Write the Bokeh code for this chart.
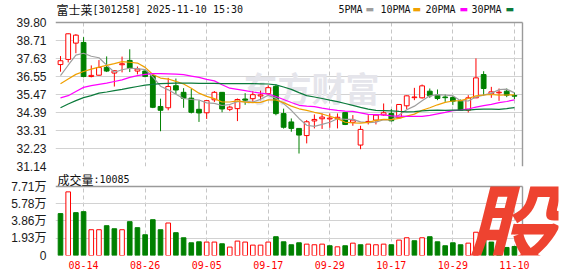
from bokeh.plotting import figure
from bokeh.models import Range1d, FixedTicker, CustomJSTickFormatter, Label, ColumnDataSource, Grid
from bokeh.layouts import column
from bokeh.embed import file_html
from bokeh.resources import INLINE

# ---------------- data ----------------
dates = ["08-11", "08-12", "08-13", "08-14", "08-15", "08-18", "08-19", "08-20", "08-21", "08-22",
         "08-25", "08-26", "08-27", "08-28", "08-29", "09-01", "09-02", "09-03", "09-04", "09-05",
         "09-08", "09-09", "09-10", "09-11", "09-12", "09-15", "09-16", "09-17", "09-18", "09-19",
         "09-22", "09-23", "09-24", "09-25", "09-26", "09-29", "09-30", "10-09", "10-10", "10-13",
         "10-14", "10-15", "10-16", "10-17", "10-20", "10-21", "10-22", "10-23", "10-24", "10-27",
         "10-28", "10-29", "10-30", "10-31", "11-03", "11-04", "11-05", "11-06", "11-07", "11-10"]

open_ = [37.27, 37.58, 38.56, 38.60, 36.55, 36.63, 37.10, 36.76, 37.26, 37.52,
         36.88, 36.88, 36.62, 34.75, 34.67, 36.00, 35.60, 35.25, 34.58, 34.37,
         35.15, 35.60, 34.58, 34.62, 35.20, 35.22, 35.38, 35.52, 35.96, 34.32,
         33.82, 33.43, 33.00, 33.88, 34.01, 34.00, 34.03, 34.38, 33.80, 32.43,
         33.80, 33.93, 34.24, 34.33, 34.07, 34.79, 35.28, 35.27, 35.67, 35.43,
         35.32, 35.29, 35.07, 34.53, 35.27, 36.67, 35.51, 35.57, 35.67, 35.41]
high = [37.78, 39.14, 39.10, 38.92, 37.22, 37.54, 37.76, 36.92, 37.75, 38.19,
        37.15, 36.95, 36.70, 35.22, 36.47, 36.43, 35.85, 35.80, 35.12, 35.12,
        35.68, 35.62, 34.80, 35.23, 35.55, 35.68, 35.70, 36.02, 36.07, 34.62,
        34.03, 33.45, 33.93, 34.27, 34.33, 34.33, 34.33, 34.40, 34.23, 33.59,
        34.23, 34.25, 34.93, 34.59, 34.89, 35.41, 35.87, 36.07, 35.83, 35.77,
        35.47, 35.39, 35.17, 35.43, 37.64, 36.87, 35.93, 35.83, 35.83, 35.59]
low = [36.84, 37.40, 37.95, 36.50, 36.50, 36.60, 36.82, 35.95, 36.80, 36.82,
       36.68, 36.50, 34.65, 33.26, 34.52, 35.50, 34.67, 34.33, 33.82, 34.00,
       35.02, 34.40, 34.47, 33.87, 34.85, 35.03, 35.12, 35.42, 34.22, 33.42,
       33.23, 31.92, 32.53, 33.43, 33.40, 33.47, 33.43, 33.63, 33.59, 32.18,
       33.67, 33.67, 34.19, 33.85, 34.03, 34.59, 35.13, 35.23, 35.27, 35.13,
       35.03, 34.83, 34.51, 34.39, 35.25, 35.39, 35.27, 35.09, 35.31, 35.19]
close = [37.50, 39.12, 39.04, 36.55, 36.62, 37.09, 36.88, 36.90, 37.32, 37.05,
         37.00, 36.56, 34.70, 34.52, 35.95, 35.74, 35.25, 34.40, 34.36, 35.10,
         35.60, 34.60, 34.71, 35.17, 35.13, 35.46, 35.45, 35.88, 34.32, 33.50,
         33.43, 33.03, 33.83, 33.97, 34.11, 34.05, 34.10, 33.67, 33.93, 33.37,
         33.85, 34.23, 34.37, 33.89, 34.87, 35.39, 35.32, 35.99, 35.39, 35.23,
         35.28, 35.07, 34.53, 35.27, 36.47, 35.83, 35.63, 35.61, 35.43, 35.37]

ma5 = [36.60, 37.23, 37.84, 37.95, 37.77, 37.68, 37.24, 36.81, 36.96, 37.05,
       37.03, 36.97, 36.53, 35.97, 35.75, 35.49, 35.23, 35.17, 35.14, 34.97,
       34.94, 34.81, 34.87, 35.04, 35.04, 35.01, 35.18, 35.42, 35.25, 34.92,
       34.52, 34.03, 33.62, 33.55, 33.67, 33.80, 34.01, 33.98, 33.97, 33.82,
       33.78, 33.81, 33.95, 33.94, 34.24, 34.55, 34.77, 35.09, 35.39, 35.46,
       35.44, 35.39, 35.10, 35.08, 35.32, 35.43, 35.55, 35.76, 35.79, 35.57]
ma10 = [36.12, 36.40, 36.68, 36.85, 37.00, 37.12, 37.22, 37.33, 37.45, 37.41,
        37.36, 37.10, 36.67, 36.46, 36.40, 36.26, 36.10, 35.85, 35.55, 35.36,
        35.22, 35.02, 35.02, 35.09, 35.01, 34.98, 35.00, 35.15, 35.14, 34.98,
        34.77, 34.61, 34.52, 34.40, 34.30, 34.16, 34.02, 33.80, 33.76, 33.75,
        33.79, 33.91, 33.97, 33.96, 34.03, 34.17, 34.29, 34.52, 34.67, 34.85,
        35.00, 35.08, 35.10, 35.23, 35.39, 35.44, 35.47, 35.43, 35.44, 35.45]
ma20 = [35.27, 35.40, 35.65, 35.90, 36.00, 36.08, 36.15, 36.25, 36.35, 36.50,
        36.60, 36.68, 36.72, 36.72, 36.71, 36.70, 36.66, 36.58, 36.50, 36.38,
        36.29, 36.06, 35.85, 35.78, 35.70, 35.62, 35.55, 35.50, 35.35, 35.17,
        34.99, 34.82, 34.77, 34.74, 34.65, 34.57, 34.51, 34.47, 34.45, 34.37,
        34.28, 34.26, 34.24, 34.18, 34.17, 34.16, 34.16, 34.16, 34.21, 34.30,
        34.39, 34.50, 34.53, 34.60, 34.71, 34.80, 34.88, 34.98, 35.05, 35.15]
ma30 = [34.67, 34.90, 35.10, 35.28, 35.40, 35.55, 35.62, 35.70, 35.78, 35.87,
        35.95, 36.03, 36.08, 36.12, 36.14, 36.15, 36.15, 36.15, 36.14, 36.14,
        36.14, 36.13, 36.12, 36.12, 36.12, 36.12, 36.11, 36.10, 36.05, 35.92,
        35.78, 35.58, 35.40, 35.32, 35.23, 35.13, 35.04, 34.93, 34.82, 34.70,
        34.59, 34.51, 34.50, 34.48, 34.45, 34.43, 34.44, 34.49, 34.52, 34.53,
        34.52, 34.53, 34.53, 34.53, 34.58, 34.59, 34.59, 34.58, 34.62, 34.68]

# volume in units of 万 (10,000)
volume = [4.68, 7.11, 4.79, 4.90, 2.88, 2.88, 3.33, 2.99, 2.88, 3.78,
          3.11, 2.32, 4.00, 2.88, 3.63, 2.55, 1.98, 1.42, 1.53, 1.50,
          1.50, 1.31, 0.94, 1.61, 1.50, 1.16, 1.16, 1.50, 2.10, 1.53,
          1.20, 1.42, 1.27, 1.20, 1.27, 1.09, 0.97, 1.09, 1.38, 1.20,
          1.27, 1.20, 1.27, 1.20, 1.72, 1.98, 1.65, 1.98, 2.10, 1.53,
          1.09, 1.42, 1.20, 1.38, 2.60, 2.32, 1.50, 1.20, 0.90, 1.01]
# 1 = red (up) volume bar, 0 = green
volume_up = [0, 1, 0, 0, 1, 1, 0, 0, 1, 0,
             0, 0, 0, 0, 1, 0, 0, 0, 0, 1,
             1, 0, 1, 1, 1, 1, 1, 1, 0, 0,
             0, 0, 1, 1, 1, 0, 1, 0, 1, 0,
             1, 1, 1, 0, 1, 1, 0, 1, 0, 0,
             0, 0, 0, 1, 1, 0, 0, 0, 0, 0]

price_ticks = [31.14, 32.23, 33.31, 34.39, 35.47, 36.55, 37.63, 38.71, 39.80]
volume_ticks = [0, 1.93, 3.86, 5.78, 7.71]
x_tick_labels = ["08-14", "08-26", "09-05", "09-17", "09-29", "10-17", "10-29", "11-10"]

title_name = "富士莱"
title_rest = "[301258] 2025-11-10 15:30"
volume_title = "成交量"
volume_last = ":10085"
ma_names = ["5PMA", "10PMA", "20PMA", "30PMA"]

# ---------------- styling / layout (canvas pixels) ----------------
RED = "#FF0000"
GREEN = "#008000"
MA_COLORS = ["#9E9E9E", "#F0A000", "#FF00FF", "#0B7A3B"]
GRID = "#D2D2D2"
VGRID = "#C6C6C6"
BORDER = "#9A9A9A"
LABEL_FONT = "Liberation Sans, Noto Sans CJK SC"
MONO = "DejaVu Sans Mono"
CJK = "Noto Sans CJK SC"
W, H = 578, 276
PANEL_L, PANEL_R = 55, 522          # chart panels
FRAME_R = 558                       # every figure's frame reaches here (room for the logo)
P_TOP, P_BOT = 22, 166              # price panel
P_FIG_BOT = 173                     # price figure ends / volume figure starts
V_TOP, V_BOT = 186, 255             # volume panel

n = len(close)
xs = list(range(n))
x_ticks = [dates.index(d) for d in x_tick_labels]
up = [c >= o for o, c in zip(open_, close)]

src = ColumnDataSource(dict(
    x=xs, open=open_, high=high, low=low, close=close,
    top=[max(o, c) for o, c in zip(open_, close)],
    bottom=[min(o, c) for o, c in zip(open_, close)],
    wick=[RED if u else GREEN for u in up],
    fill=["white" if u else GREEN for u in up],
    vol=volume,
    vline=[RED if u else GREEN for u in volume_up],
    vfill=["white" if u else GREEN for u in volume_up],
    ma5=ma5, ma10=ma10, ma20=ma20, ma30=ma30,
))

x_lo, x_hi = -0.65, n + 0.05
px_per_x = (PANEL_R - PANEL_L) / (x_hi - x_lo)
x_view_hi = x_lo + (FRAME_R - PANEL_L) / px_per_x


def screen_label(**kw):
    return Label(x_units="screen", y_units="screen", text_baseline="middle", **kw)


def add_borders(p, y_lo, y_hi, w_bottom, w_top):
    # panel border; edges lying on the frame edge are drawn wider (half is clipped)
    for yv, w in ((y_lo, w_bottom), (y_hi, w_top)):
        p.add_layout(Grid(dimension=1, ticker=FixedTicker(ticks=[yv]), cross_bounds=(x_lo, x_hi),
                          grid_line_color=BORDER, grid_line_width=w))
    for xv, w in ((x_lo, 2), (x_hi, 1.4)):
        p.add_layout(Grid(dimension=0, ticker=FixedTicker(ticks=[xv]), cross_bounds=(y_lo, y_hi),
                          grid_line_color=BORDER, grid_line_width=w))


def style_yaxis(p):
    p.yaxis.axis_line_color = None
    p.yaxis.major_tick_line_color = None
    p.yaxis.minor_tick_line_color = None
    p.yaxis.major_label_standoff = 3
    p.yaxis.major_label_text_font = LABEL_FONT
    p.yaxis.major_label_text_font_size = "12px"
    p.yaxis.major_label_text_color = "#1a1a1a"


# ---------------- price panel (its frame also holds the header line) ----------------
p_lo, p_hi = price_ticks[0], price_ticks[-1]
p_per_px = (p_hi - p_lo) / (P_BOT - P_TOP)
p1 = figure(width=W, height=P_FIG_BOT, x_range=Range1d(x_lo, x_view_hi),
            y_range=Range1d(p_lo, p_hi + P_TOP * p_per_px),
            output_backend="svg", toolbar_location=None, x_axis_location=None,
            min_border_left=PANEL_L, min_border_right=W - FRAME_R,
            min_border_top=0, min_border_bottom=P_FIG_BOT - P_BOT)
p1.outline_line_color = None
p1.yaxis.ticker = FixedTicker(ticks=price_ticks)
p1.yaxis.formatter = CustomJSTickFormatter(code="return tick.toFixed(2)")
style_yaxis(p1)
p1.ygrid.ticker = FixedTicker(ticks=price_ticks[1:-1])
p1.ygrid.grid_line_color = GRID
p1.ygrid.cross_bounds = (x_lo, x_hi)
p1.xgrid.ticker = FixedTicker(ticks=x_ticks)
p1.xgrid.grid_line_color = VGRID
p1.xgrid.grid_line_dash = "4 3"
p1.xgrid.cross_bounds = (p_lo, p_hi)
add_borders(p1, p_lo, p_hi, 2, 1.4)

# header line (screen units from the frame's bottom-left corner)
hy = P_BOT - 8.8
p1.add_layout(screen_label(x=56 - PANEL_L, y=hy, text=title_name, text_font=CJK,
                           text_font_size="12px", text_color="#111111"))
p1.add_layout(screen_label(x=92 - PANEL_L, y=hy, text=title_rest, text_font=MONO,
                           text_font_size="10px", text_color="#111111"))
legend_x = [338, 380, 425, 471]
dash_x = [365, 412, 459, 505]
for name, lx, dx, c in zip(ma_names, legend_x, dash_x, MA_COLORS):
    p1.add_layout(screen_label(x=lx - PANEL_L, y=hy, text=name, text_font=MONO,
                               text_font_size="10px", text_color="#111111"))
    p1.add_layout(screen_label(x=dx - PANEL_L, y=hy, text="▬", text_font="DejaVu Sans",
                               text_font_size="9px", text_color=c))

# watermark
p1.add_layout(screen_label(x=311 - PANEL_L, y=P_BOT - 87, text="东方财富", text_font=CJK,
                           text_font_size="34px", text_font_style="bold", text_color="#E5E5EB",
                           text_align="center", level="underlay"))

p1.segment(x0="x", y0="low", x1="x", y1="high", line_color="wick", line_width=1, source=src)
p1.vbar(x="x", width=0.62, top="top", bottom="bottom", fill_color="fill",
        line_color="wick", line_width=1, source=src)
for col, c in zip(["ma5", "ma10", "ma20", "ma30"], MA_COLORS):
    p1.line(x="x", y=col, line_color=c, line_width=1.2, source=src)

# ---------------- volume panel ----------------
v_lo, v_hi = volume_ticks[0], volume_ticks[-1]
v_per_px = (v_hi - v_lo) / (V_BOT - V_TOP)
p2 = figure(width=W, height=H - P_FIG_BOT, x_range=Range1d(x_lo, x_view_hi),
            y_range=Range1d(v_lo, v_hi + (V_TOP - P_FIG_BOT) * v_per_px),
            output_backend="svg", toolbar_location=None,
            min_border_left=PANEL_L, min_border_right=W - FRAME_R,
            min_border_top=0, min_border_bottom=H - V_BOT)
p2.outline_line_color = None
p2.yaxis.ticker = FixedTicker(ticks=volume_ticks)
p2.yaxis.formatter = CustomJSTickFormatter(code="return tick == 0 ? '0' : tick.toFixed(2) + '万'")
style_yaxis(p2)
p2.xaxis.ticker = FixedTicker(ticks=x_ticks)
p2.xaxis.formatter = CustomJSTickFormatter(args=dict(d=dates), code="return d[Math.round(tick)]")
p2.xaxis.axis_line_color = None
p2.xaxis.major_tick_line_color = None
p2.xaxis.minor_tick_line_color = None
p2.xaxis.major_tick_out = 0
p2.xaxis.major_label_standoff = 5
p2.xaxis.major_label_text_font = MONO
p2.xaxis.major_label_text_font_size = "10px"
p2.xaxis.major_label_text_color = RED
p2.ygrid.ticker = FixedTicker(ticks=volume_ticks[1:-1])
p2.ygrid.grid_line_color = GRID
p2.ygrid.cross_bounds = (x_lo, x_hi)
p2.xgrid.ticker = FixedTicker(ticks=x_ticks)
p2.xgrid.grid_line_color = VGRID
p2.xgrid.grid_line_dash = "4 3"
p2.xgrid.cross_bounds = (v_lo, v_hi)
add_borders(p2, v_lo, v_hi, 2, 1.4)

p2.vbar(x="x", width=0.6, top="vol", bottom=0, fill_color="vfill", line_color="vline",
        line_width=1, source=src)

# volume caption
p2.add_layout(screen_label(x=57 - PANEL_L, y=V_BOT - 178.5, text=volume_title, text_font=CJK,
                           text_font_size="12px", text_color="#111111"))
p2.add_layout(screen_label(x=93 - PANEL_L, y=V_BOT - 178.5, text=volume_last, text_font=MONO,
                           text_font_size="10px", text_color="#111111"))
# logo
p2.add_layout(screen_label(x=510 - PANEL_L, y=V_BOT - 221, text="股", text_font=CJK,
                           text_font_size="94px", text_font_style="bold italic",
                           text_color="#EE4330", text_align="center"))

layout = column(p1, p2, spacing=0)
open("out.html", "w").write(file_html(layout, INLINE))
